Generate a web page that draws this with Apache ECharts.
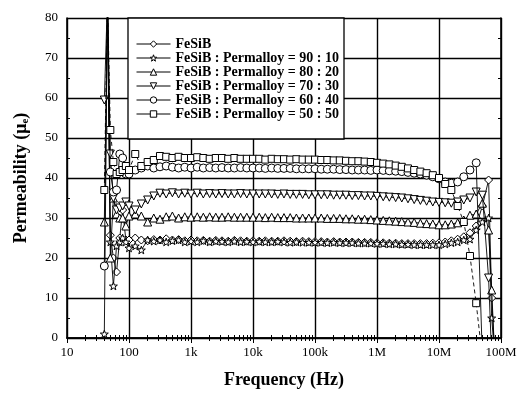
<!DOCTYPE html>
<html>
<head>
<meta charset="utf-8">
<script src="https://cdn.jsdelivr.net/npm/echarts@6/dist/echarts.min.js"></script>
<style>
  html, body { margin: 0; padding: 0; background: #fff; }
  #chart { width: 520px; height: 398px; }
</style>
</head>
<body>
<div id="chart"></div>
<script>
// frequency points (Hz)
const freqHz = [
  40, 45, 50, 56, 63, 71, 79, 89,
  100, 126, 158, 200, 251, 316, 398, 501, 631, 794,
  1000, 1260, 1580, 2000, 2510, 3160, 3980, 5010, 6310, 7940,
  10000, 12600, 15800, 20000, 25100, 31600, 39800, 50100, 63100, 79400,
  100000, 126000, 158000, 200000, 251000, 316000, 398000, 501000, 631000, 794000,
  1e6, 1.26e6, 1.58e6, 2e6, 2.51e6, 3.16e6, 3.98e6, 5.01e6, 6.31e6, 7.94e6,
  1e7, 1.26e7, 1.58e7, 2e7, 2.51e7, 3.16e7, 3.98e7, 5.01e7, 6.31e7, 7.08e7, 7.94e7
];

const seriesNames = [
  "FeSiB",
  "FeSiB : Permalloy = 90 : 10",
  "FeSiB : Permalloy = 80 : 20",
  "FeSiB : Permalloy = 70 : 30",
  "FeSiB : Permalloy = 60 : 40",
  "FeSiB : Permalloy = 50 : 50"
];

const fesib = [
  null, 85, 25.7, 20, 16.5, 25, 32, 24.5,
  24.5, 25, 24.5, 24.3, 24.6, 24.5, 24.8, 24.5, 24.6, 24.3,
  24.5, 24.3, 24.4, 24.2, 24.4, 24.3, 24.2, 24.4, 24.3, 24.2,
  24.3, 24.2, 24.3, 24.2, 24.2, 24.3, 24.2, 24.1, 24.2, 24.1,
  24.1, 24.1, 24, 24.1, 24, 24, 24, 23.9, 23.9, 23.9,
  23.8, 23.8, 23.7, 23.7, 23.6, 23.6, 23.6, 23.6, 23.6, 23.7,
  23.8, 24, 24.3, 24.7, 25.3, 26.3, 28, 33, 39.5, 10, -5
];
const ratio90 = [
  1, 85, 24, 13, 23, 24, 25, 24,
  22.5, 23, 22, 24.5, 24.2, 24.5, 24, 24.3, 24.5, 24,
  24.2, 24, 24.3, 24, 24.2, 24.1, 24, 24.2, 24, 24.1,
  24, 24.1, 24, 24, 24.1, 24, 23.9, 24, 23.9, 23.9,
  23.9, 23.9, 23.8, 23.9, 23.8, 23.8, 23.8, 23.7, 23.7, 23.7,
  23.6, 23.6, 23.5, 23.5, 23.4, 23.4, 23.3, 23.3, 23.3, 23.3,
  23.3, 23.5, 23.8, 24, 24.5, 24.7, 27, 29, 30, 5, -5
];
const ratio80 = [
  29, 85, 20, 35, 31, 30, 30, 28,
  30.5, 31, 30.5, 29, 30, 29.7, 30.3, 30.5, 30, 30.3,
  30.2, 30.3, 30.2, 30.3, 30.2, 30.2, 30.3, 30.2, 30.2, 30.2,
  30.2, 30.2, 30.1, 30.2, 30.1, 30.1, 30.1, 30, 30, 30,
  30, 30, 29.9, 29.9, 29.9, 29.8, 29.8, 29.7, 29.7, 29.6,
  29.5, 29.4, 29.3, 29.2, 29.1, 29, 28.9, 28.7, 28.6, 28.5,
  28.3, 28.3, 28.5, 28.8, 29.5, 30.7, 31, 33.7, 27, 12, -5
];
const ratio70 = [
  59.5, 85, 46, 35, 32, 32.5, 33, 34,
  33, 32, 33.5, 34.5, 35.5, 36.2, 36, 36.3, 36, 36.2,
  36, 36.2, 36, 36.1, 36, 36.1, 36, 36, 36.1, 36,
  36, 36, 36, 36, 35.9, 36, 35.9, 35.9, 35.9, 35.8,
  35.8, 35.8, 35.8, 35.7, 35.7, 35.7, 35.6, 35.6, 35.5, 35.5,
  35.4, 35.3, 35.2, 35.1, 35, 34.8, 34.6, 34.4, 34.2, 34,
  33.9, 33.8, 33.7, 34, 34.5, 35, 36.5, 35.7, 15, -5, null
];
const ratio60 = [
  18, 85, 41.5, 36.5, 37, 46, 45, 41,
  41, 42, 42.5, 43, 42.5, 42.8, 43, 42.7, 42.5, 42.7,
  42.5, 42.7, 42.5, 42.6, 42.5, 42.6, 42.5, 42.5, 42.6, 42.5,
  42.5, 42.5, 42.4, 42.5, 42.4, 42.4, 42.4, 42.3, 42.3, 42.3,
  42.3, 42.2, 42.2, 42.2, 42.1, 42.1, 42, 42, 42, 41.9,
  42, 41.9, 41.8, 41.7, 41.6, 41.4, 41.2, 41, 40.7, 40.3,
  39.8, 39, 38.7, 39, 40.3, 42, 43.8, -5, null, null, null
];
const ratio50 = [
  37, 85, 52, 44, 41, 41.5, 42, 43,
  42, 46, 43, 44, 44.5, 45.5, 45.3, 45, 45.3, 45,
  45, 45.2, 45, 44.8, 45, 45, 44.8, 45, 44.8, 44.8,
  44.8, 44.8, 44.6, 44.8, 44.7, 44.7, 44.6, 44.7, 44.6, 44.6,
  44.6, 44.5, 44.5, 44.4, 44.4, 44.3, 44.2, 44.2, 44.1, 44,
  43.8, 43.6, 43.4, 43.1, 42.8, 42.4, 42, 41.6, 41.2, 40.7,
  40, 38.5, 37, 33, 29, 20.5, 8.7, -5, null, null, null
];

const xTickLabels = { 10: "10", 100: "100", 1000: "1k", 10000: "10k", 100000: "100k", 1000000: "1M", 10000000: "10M", 100000000: "100M" };

const starPath = "path://M0,-10L2.35,-3.24L9.51,-3.09L3.8,1.24L5.88,8.09L0,4L-5.88,8.09L-3.8,1.24L-9.51,-3.09L-2.35,-3.24Z";
const symbols = ["diamond", starPath, "triangle", "triangle", "circle", "rect"];
const symbolRotates = [0, 0, 0, 180, 0, 0];
const symbolSizes = [8, 8, 8, 8, 8, 7];
const allValues = [fesib, ratio90, ratio80, ratio70, ratio60, ratio50];

const serif = "'Liberation Serif', 'DejaVu Serif', serif";
const hollow = { color: "#fff", borderColor: "#000", borderWidth: 1 };

const chart = echarts.init(document.getElementById("chart"));

const series = allValues.map((vals, i) => ({
  name: seriesNames[i],
  type: "line",
  data: freqHz.map((f, j) => [f, vals[j]]),
  symbol: symbols[i],
  symbolRotate: symbolRotates[i],
  symbolSize: symbolSizes[i],
  symbolKeepAspect: true,
  showAllSymbol: true,
  connectNulls: false,
  clip: true,
  lineStyle: { color: "#000", width: 0.9, type: i === 5 ? [4, 3] : "solid" },
  itemStyle: hollow,
  emphasis: { disabled: true },
  animation: false,
  z: 3 + i
}));

const option = {
  animation: false,
  grid: { left: 67, right: 19, top: 18, bottom: 60, show: false },
  legend: {
    orient: "vertical",
    left: 128,
    top: 18,
    padding: [19, 5, 18, 8],
    itemGap: 0,
    itemWidth: 34,
    itemHeight: 8,
    backgroundColor: "#fff",
    borderColor: "#000",
    borderWidth: 1.3,
    z: 20,
    textStyle: { fontFamily: serif, fontWeight: "bold", fontSize: 14, lineHeight: 14, color: "#000" },
    data: seriesNames.map(n => ({
      name: n,
      itemStyle: hollow,
      lineStyle: { color: "#000", width: 1, type: "solid" }
    }))
  },
  xAxis: [
    {
      type: "log",
      logBase: 10,
      min: 10,
      max: 1e8,
      name: "Frequency (Hz)",
      nameLocation: "middle",
      nameGap: 33,
      nameTextStyle: { fontFamily: serif, fontWeight: "bold", fontSize: 18, color: "#000" },
      axisLine: { lineStyle: { color: "#000", width: 1.6 } },
      axisTick: { inside: true, length: 5, lineStyle: { color: "#000" } },
      minorTick: { show: true, splitNumber: 9, length: 3, lineStyle: { color: "#000" } },
      splitLine: { show: true, lineStyle: { color: "#000", width: 1.4 } },
      axisLabel: {
        fontFamily: serif, fontSize: 13, color: "#000", margin: 8,
        formatter: v => xTickLabels[Math.round(v)] || ""
      }
    },
    {
      type: "log",
      logBase: 10,
      min: 10,
      max: 1e8,
      position: "top",
      axisLine: { lineStyle: { color: "#000", width: 1.6 } },
      axisTick: { inside: true, length: 5, lineStyle: { color: "#000" } },
      minorTick: { show: true, splitNumber: 9, length: 3, lineStyle: { color: "#000" } },
      splitLine: { show: false },
      axisLabel: { show: false }
    }
  ],
  yAxis: [
    {
      type: "value",
      min: 0,
      max: 80,
      interval: 10,
      name: "Permeability (μ{sub|e})",
      nameLocation: "middle",
      nameGap: 36,
      nameTextStyle: {
        fontFamily: serif, fontWeight: "bold", fontSize: 18, color: "#000",
        rich: { sub: { fontFamily: serif, fontWeight: "bold", fontSize: 11, verticalAlign: "bottom", padding: [8, 0, 0, 0] } }
      },
      axisLine: { show: true, lineStyle: { color: "#000", width: 1.6 } },
      axisTick: { inside: true, length: 5, lineStyle: { color: "#000" } },
      minorTick: { show: true, splitNumber: 2, length: 3, lineStyle: { color: "#000" } },
      splitLine: { show: true, lineStyle: { color: "#000", width: 1.4 } },
      axisLabel: { fontFamily: serif, fontSize: 13, color: "#000", margin: 9 }
    },
    {
      type: "value",
      min: 0,
      max: 80,
      interval: 10,
      position: "right",
      axisLine: { show: true, lineStyle: { color: "#000", width: 1.6 } },
      axisTick: { inside: true, length: 5, lineStyle: { color: "#000" } },
      minorTick: { show: true, splitNumber: 2, length: 3, lineStyle: { color: "#000" } },
      splitLine: { show: false },
      axisLabel: { show: false }
    }
  ],
  series: series
};

chart.setOption(option);
</script>
</body>
</html>
